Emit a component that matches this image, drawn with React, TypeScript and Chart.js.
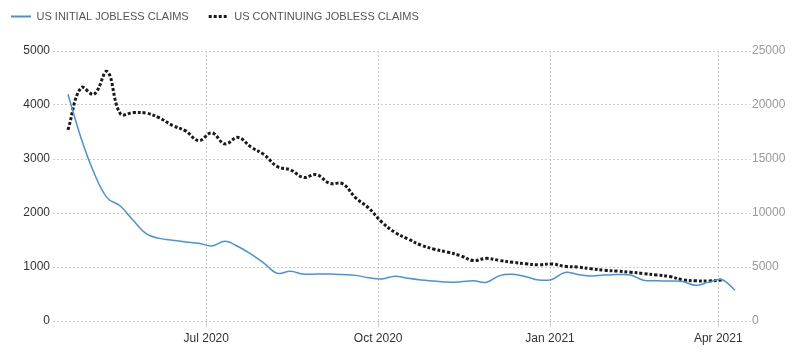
import React, { useEffect, useRef } from 'react';
import { Chart, registerables } from 'chart.js';

Chart.register(...registerables);

// Weekly observation dates (categories)
const weekDates = [
  '2020-04-18', '2020-04-25', '2020-05-02', '2020-05-09', '2020-05-16', '2020-05-23', '2020-05-30',
  '2020-06-06', '2020-06-13', '2020-06-20', '2020-06-27', '2020-07-04', '2020-07-11', '2020-07-18',
  '2020-07-25', '2020-08-01', '2020-08-08', '2020-08-15', '2020-08-22', '2020-08-29', '2020-09-05',
  '2020-09-12', '2020-09-19', '2020-09-26', '2020-10-03', '2020-10-10', '2020-10-17', '2020-10-24',
  '2020-10-31', '2020-11-07', '2020-11-14', '2020-11-21', '2020-11-28', '2020-12-05', '2020-12-12',
  '2020-12-19', '2020-12-26', '2021-01-02', '2021-01-09', '2021-01-16', '2021-01-23', '2021-01-30',
  '2021-02-06', '2021-02-13', '2021-02-20', '2021-02-27', '2021-03-06', '2021-03-13', '2021-03-20',
  '2021-03-27', '2021-04-03', '2021-04-10',
];

// US initial jobless claims (thousands) - left axis
const initialClaims = [
  4200, 3390, 2740, 2280, 2130, 1860, 1615, 1530, 1495, 1465,
  1440, 1390, 1475, 1380, 1240, 1068, 885, 920, 870, 870,
  870, 860, 845, 800, 778, 830, 790, 760, 740, 720,
  725, 745, 716, 840, 865, 820, 760, 770, 900, 860,
  835, 850, 860, 850, 755, 745, 740, 730, 660, 720,
  765, 570,
];

// US continuing jobless claims (thousands) - right axis
const continuingClaims = [
  17700, 21600, 21000, 23100, 19200, 19300, 19250, 18800, 18100, 17600,
  16700, 17420, 16400, 17000, 16100, 15400, 14300, 14000, 13300, 13550,
  12750, 12700, 11400, 10450, 9150, 8200, 7600, 7020, 6650, 6380,
  6050, 5600, 5800, 5600, 5440, 5300, 5200, 5280, 5060, 4990,
  4830, 4700, 4620, 4520, 4390, 4260, 4120, 3820, 3720, 3710,
  3800,
];

const tickDates = ['2020-07-01', '2020-10-01', '2021-01-01', '2021-04-01'];
const tickLabels = ['Jul 2020', 'Oct 2020', 'Jan 2021', 'Apr 2021'];
const leftTicks = [0, 1000, 2000, 3000, 4000, 5000];
const rightTicks = [0, 5000, 10000, 15000, 20000, 25000];
const axisStart = '2020-04-10';
const axisEnd = '2021-04-18';

const DAY_MS = 86400000;
const toDay = (s: string) => Date.parse(s + 'T00:00:00Z') / DAY_MS;

const FONT = "'Liberation Sans', Arial, sans-serif";

const legendSpacer = {
  id: 'legendSpacer',
  beforeLayout(chart: any) {
    const lg = chart.legend;
    if (lg && !lg.__spaced) {
      const orig = lg.fit.bind(lg);
      lg.fit = function () {
        orig();
        this.height += 19;
      };
      lg.__spaced = true;
    }
  },
};

export default function App() {
  const canvasRef = useRef<HTMLCanvasElement | null>(null);

  useEffect(() => {
    if (!canvasRef.current) return;
    const tickDays = tickDates.map(toDay);
    const baseLabels = (Chart.defaults as any).plugins.legend.labels.generateLabels;
    const chart = new Chart(canvasRef.current, {
      type: 'line',
      data: {
        datasets: [
          {
            label: 'US INITIAL JOBLESS CLAIMS',
            data: initialClaims.map((v, i) => ({ x: toDay(weekDates[i]), y: v })),
            borderColor: 'rgb(74, 144, 226)',
            backgroundColor: 'rgb(74, 144, 226)',
            borderWidth: 1.5,
            pointRadius: 0,
            tension: 0.4,
            yAxisID: 'y',
          },
          {
            label: 'US CONTINUING JOBLESS CLAIMS',
            data: continuingClaims.map((v, i) => ({ x: toDay(weekDates[i]), y: v })),
            borderColor: '#1a1a1a',
            backgroundColor: '#1a1a1a',
            borderWidth: 3,
            borderDash: [3, 2],
            pointRadius: 0,
            tension: 0.4,
            yAxisID: 'y1',
          },
        ],
      },
      options: {
        animation: false,
        responsive: true,
        maintainAspectRatio: false,
        layout: { padding: { left: -9, right: 0, top: -9, bottom: 0 } },
        plugins: {
          tooltip: { enabled: false },
          legend: {
            display: true,
            position: 'top',
            align: 'start',
            labels: {
              usePointStyle: true,
              pointStyle: 'line',
              pointStyleWidth: 20,
              padding: 20,
              color: '#555',
              font: { family: FONT, size: 11 },
              generateLabels: (ch: any) =>
                baseLabels(ch).map((item: any) => {
                  const ds = ch.data.datasets[item.datasetIndex];
                  return {
                    ...item,
                    lineDash: ds.borderDash || [],
                    lineWidth: ds.borderWidth === 3 ? 3 : 2,
                    strokeStyle: ds.borderColor,
                  };
                }),
            },
          },
        },
        scales: {
          x: {
            type: 'linear',
            min: toDay(axisStart),
            max: toDay(axisEnd),
            afterBuildTicks: (scale: any) => {
              scale.ticks = tickDays.map((v) => ({ value: v }));
            },
            afterFit: (scale: any) => {
              scale.height = 39;
            },
            ticks: {
              autoSkip: false,
              maxRotation: 0,
              color: '#333',
              padding: 4,
              font: { family: FONT, size: 12 },
              callback: (value: any) => {
                const i = tickDays.indexOf(Number(value));
                return i >= 0 ? tickLabels[i] : '';
              },
            },
            grid: { color: '#cccccc', tickLength: 6, drawTicks: true },
            border: { display: false, dash: [2, 2] },
          },
          y: {
            type: 'linear',
            position: 'left',
            min: 0,
            max: 5000,
            afterBuildTicks: (scale: any) => {
              scale.ticks = leftTicks.map((v) => ({ value: v }));
            },
            afterFit: (scale: any) => {
              scale.width = 62;
            },
            ticks: {
              color: '#333',
              padding: 3,
              font: { family: FONT, size: 12 },
              callback: (value: any) => String(value),
            },
            grid: { color: '#cccccc', drawTicks: false },
            border: { display: false, dash: [2, 2] },
          },
          y1: {
            type: 'linear',
            position: 'right',
            min: 0,
            max: 25000,
            afterBuildTicks: (scale: any) => {
              scale.ticks = rightTicks.map((v) => ({ value: v }));
            },
            afterFit: (scale: any) => {
              scale.width = 50;
            },
            ticks: {
              color: '#999',
              padding: 2,
              font: { family: FONT, size: 12 },
              callback: (value: any) => String(value),
            },
            grid: { drawOnChartArea: false, drawTicks: false },
            border: { display: false },
          },
        },
      },
      plugins: [legendSpacer],
    });
    return () => chart.destroy();
  }, []);

  return (
    <div style={{ position: 'absolute', left: 0, top: 0, width: 800, height: 360, background: '#fff' }}>
      <canvas ref={canvasRef} />
    </div>
  );
}
